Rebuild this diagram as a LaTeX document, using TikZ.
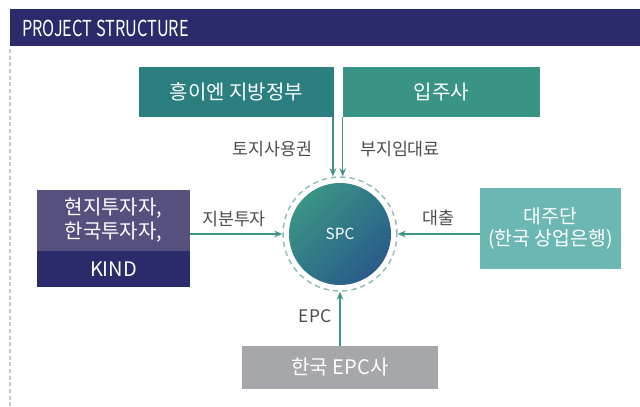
\documentclass[tikz,border=0pt]{standalone}
\usepackage{fontspec}
\setmainfont{Noto Sans CJK KR}
\newfontfamily\headfont[FakeStretch=0.74]{Noto Sans CJK KR}
\usetikzlibrary{arrows.meta}
\definecolor{navy}{HTML}{2B2A6A}
\definecolor{investpurple}{HTML}{56507F}
\definecolor{govteal}{HTML}{2B7F80}
\definecolor{tenantteal}{HTML}{3A9485}
\definecolor{lendteal}{HTML}{6AB7B3}
\definecolor{epcgray}{HTML}{A6A7AB}
\definecolor{flowteal}{HTML}{3F9488}
\definecolor{ringteal}{HTML}{8FBEB6}
\definecolor{spctop}{HTML}{3A9485}
\definecolor{spcbottom}{HTML}{2A5B8A}
\definecolor{labelgray}{HTML}{4D4D4D}
\definecolor{railgray}{HTML}{C8C8C8}
\tikzset{
  box/.style={text=white, align=center, inner sep=0pt,
    font=\fontsize{15}{18}\selectfont},
  lbl/.style={text=labelgray, inner sep=0pt, font=\fontsize{13}{15}\selectfont},
  flow/.style={-{Stealth[length=6pt,width=5pt]}, draw=flowteal, line width=0.9pt},
}
\begin{document}
\begin{tikzpicture}[x=0.75pt,y=-0.75pt]
      \useasboundingbox (0,0) rectangle (640,407);
      % header and side rail
      \fill[navy] (10,9) rectangle (640,46);
      \draw[railgray, line width=0.8pt, dash pattern=on 3pt off 2pt] (10,49) -- (10,407);
      \draw
        (22,28) node[anchor=west, text=white, inner sep=0pt,
          font=\headfont\fontsize{16.5}{18}\selectfont] (title){PROJECT STRUCTURE}
        (236.5,92) node[box, fill=govteal, minimum width=146.25pt, minimum height=37.5pt] (gov){흥이엔 지방정부}
        (441.5,92) node[box, fill=tenantteal, minimum width=147.75pt, minimum height=37.5pt] (tenant){입주사}
        (113.5,220.5) node[box, fill=investpurple, minimum width=114.75pt, minimum height=45.75pt] (inv){현지투자자,\\한국투자자,}
        (113.5,269) node[box, fill=navy, minimum width=114.75pt, minimum height=27pt] (kind){KIND}
        (550.5,228.5) node[box, fill=lendteal, minimum width=105.75pt, minimum height=60.75pt,
          font=\fontsize{14.5}{16}\selectfont] (lender){대주단\\(한국 상업은행)}
        (340,367.5) node[box, fill=epcgray, minimum width=147pt, minimum height=32.25pt] (epc){한국 EPC사}
        (340,234) node[circle, minimum size=76.5pt, inner sep=0pt, top color=spctop, bottom color=spcbottom,
          shading angle=45, text=white, font=\fontsize{11.5}{13}\selectfont] (spc){SPC}
        (340,234) node[circle, minimum size=85.5pt, inner sep=0pt, draw=ringteal, line width=1.1pt,
          dash pattern=on 4pt off 3pt] (ring){};
      % flow labels
      \draw
        (272.5,149) node[lbl] (landright){토지사용권}
        (400,149) node[lbl] (landfee){부지임대료}
        (234,219) node[lbl] (equity){지분투자}
        (438,218) node[lbl] (loan){대출}
        (315,316) node[lbl] (epclbl){EPC};
      \begin{scope}[flow]
        \draw ([xshift=-1pt]gov.south east) to ([xshift=-1pt]gov.south east |- ring.north);
        \draw (tenant.south west) to (tenant.south west |- ring.north);
        \draw (ring.west -| inv.east) to (ring.west);
        \draw (ring.east -| lender.west) to (ring.east);
        \draw (epc.north) to (ring.south);
      \end{scope}
    \end{tikzpicture}
\end{document}
